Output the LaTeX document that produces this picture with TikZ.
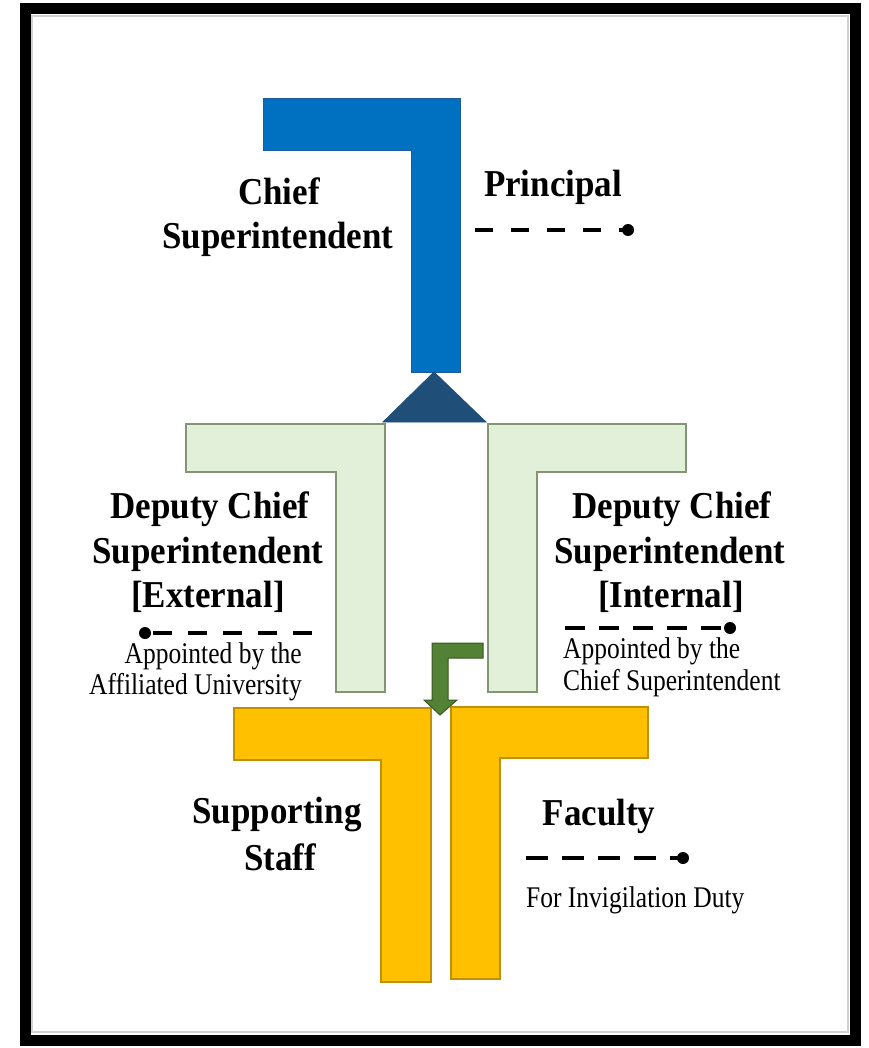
\documentclass[tikz,border=0pt]{standalone}
\usepackage{fontspec}
\setmainfont{Liberation Serif}
\newfontfamily\condserif[FakeStretch=0.85]{Liberation Serif}
\newfontfamily\boldserif[FakeStretch=0.92]{Liberation Serif}
\definecolor{csblue}{RGB}{0,112,192}
\definecolor{csblueline}{RGB}{30,90,160}
\definecolor{tri}{RGB}{31,78,121}
\definecolor{lgreen}{RGB}{226,240,217}
\definecolor{lgreenline}{RGB}{130,150,115}
\definecolor{gold}{RGB}{255,192,0}
\definecolor{goldline}{RGB}{191,144,0}
\definecolor{arrgreen}{RGB}{84,130,53}
\definecolor{arrline}{RGB}{56,87,35}
\tikzset{
  bigtext/.style={font=\boldserif\fontsize{38}{40}\selectfont\bfseries, inner sep=0pt, anchor=base},
  smalltext/.style={font=\condserif\fontsize{30}{32}\selectfont, inner sep=0pt},
  dashline/.style={line width=4.5pt, dash pattern=on 19pt off 16pt},
  dotend/.style={circle, fill=black, inner sep=0pt, minimum size=12pt},
}
\begin{document}
\begin{tikzpicture}[x=1pt,y=-1pt]
\useasboundingbox (0,0) rectangle (868,1048);
% frame
\draw[gray!35, line width=2.5pt] (32,16) rectangle (848,1032);
\draw[black, line width=11pt] (25,9) rectangle (855,1040);

% blue shape
\draw[fill=csblue, draw=csblueline, line width=1pt]
  (263,99) coordinate (b1) -- (460,99) -- (460,372) coordinate (b2) -- (411,372) -- (411,151) -- (263,151) -- cycle;
% triangle
\draw[fill=tri, draw=tri, line width=0.8pt]
  (434,372) coordinate (t1) -- (486,422) coordinate (t2) -- (383,422) coordinate (t3) -- cycle;

% green shapes
\draw[fill=lgreen, draw=lgreenline, line width=1.2pt]
  (186,424) -- (385,424) -- (385,692) -- (336,692) -- (336,472) -- (186,472) -- cycle;
\draw[fill=lgreen, draw=lgreenline, line width=1.2pt]
  (488,424) -- (686,424) -- (686,472) -- (537,472) -- (537,692) -- (488,692) -- cycle;

% yellow shapes
\draw[fill=gold, draw=goldline, line width=1.2pt]
  (234,708) -- (431,708) -- (431,982) -- (381,982) -- (381,760) -- (234,760) -- cycle;
\draw[fill=gold, draw=goldline, line width=1.2pt]
  (451,707) -- (648,707) -- (648,758) -- (500,758) -- (500,979) -- (451,979) -- cycle;

% green bent arrow
\draw[fill=arrgreen, draw=arrline, line width=1pt, line join=miter]
  (483,643) -- (483,658) -- (448,658) -- (448,700) -- (457,700) -- (440,715) -- (424,700) -- (432,700) -- (432,643) -- cycle;

% texts
\node[bigtext] (cs1) at (279,205) {Chief};
\node[bigtext] (cs2) at (278,249) {Superintendent};
\node[bigtext] (pr) at (553,197) {Principal};

\node[bigtext] (dl1) at (210,518) {Deputy Chief};
\node[bigtext] (dl2) at (208,563) {Superintendent};
\node[bigtext] (dl3) at (208,607) {[External]};

\node[bigtext] (dr1) at (672,518) {Deputy Chief};
\node[bigtext] (dr2) at (670,563) {Superintendent};
\node[bigtext] (dr3) at (671,607) {[Internal]};

\node[smalltext, anchor=base east] (al1) at (302,663) {Appointed by the};
\node[smalltext, anchor=base east] (al2) at (302,694) {Affiliated University};
\node[smalltext, anchor=base west] (ar1) at (563,658) {Appointed by the};
\node[smalltext, anchor=base west] (ar2) at (563,690) {Chief Superintendent};

\node[bigtext] (sp1) at (277,823) {Supporting};
\node[bigtext] (sp2) at (280,870) {Staff};
\node[bigtext] (fa) at (599,825) {Faculty};
\node[smalltext, anchor=base west] (fi) at (526,907) {For Invigilation Duty};

% dashed connectors
\coordinate (prs) at (475,230);
\node[dotend] (prd) at (628,230) {};
\draw[dashline, dash pattern=on 18pt off 18pt] (prs) -- (prd.center);

\coordinate (exs) at (312,633);
\node[dotend] (exd) at (145,633) {};
\draw[dashline, dash pattern=on 19pt off 16pt] (exs) -- (exd.center);

\coordinate (ins) at (565,628);
\node[dotend] (ind) at (730,628) {};
\draw[dashline, dash pattern=on 20pt off 14pt] (ins) -- (ind.center);

\coordinate (fas) at (526,858);
\node[dotend] (fad) at (683,858) {};
\draw[dashline, dash pattern=on 22pt off 14pt] (fas) -- (fad.center);
\end{tikzpicture}
\end{document}
